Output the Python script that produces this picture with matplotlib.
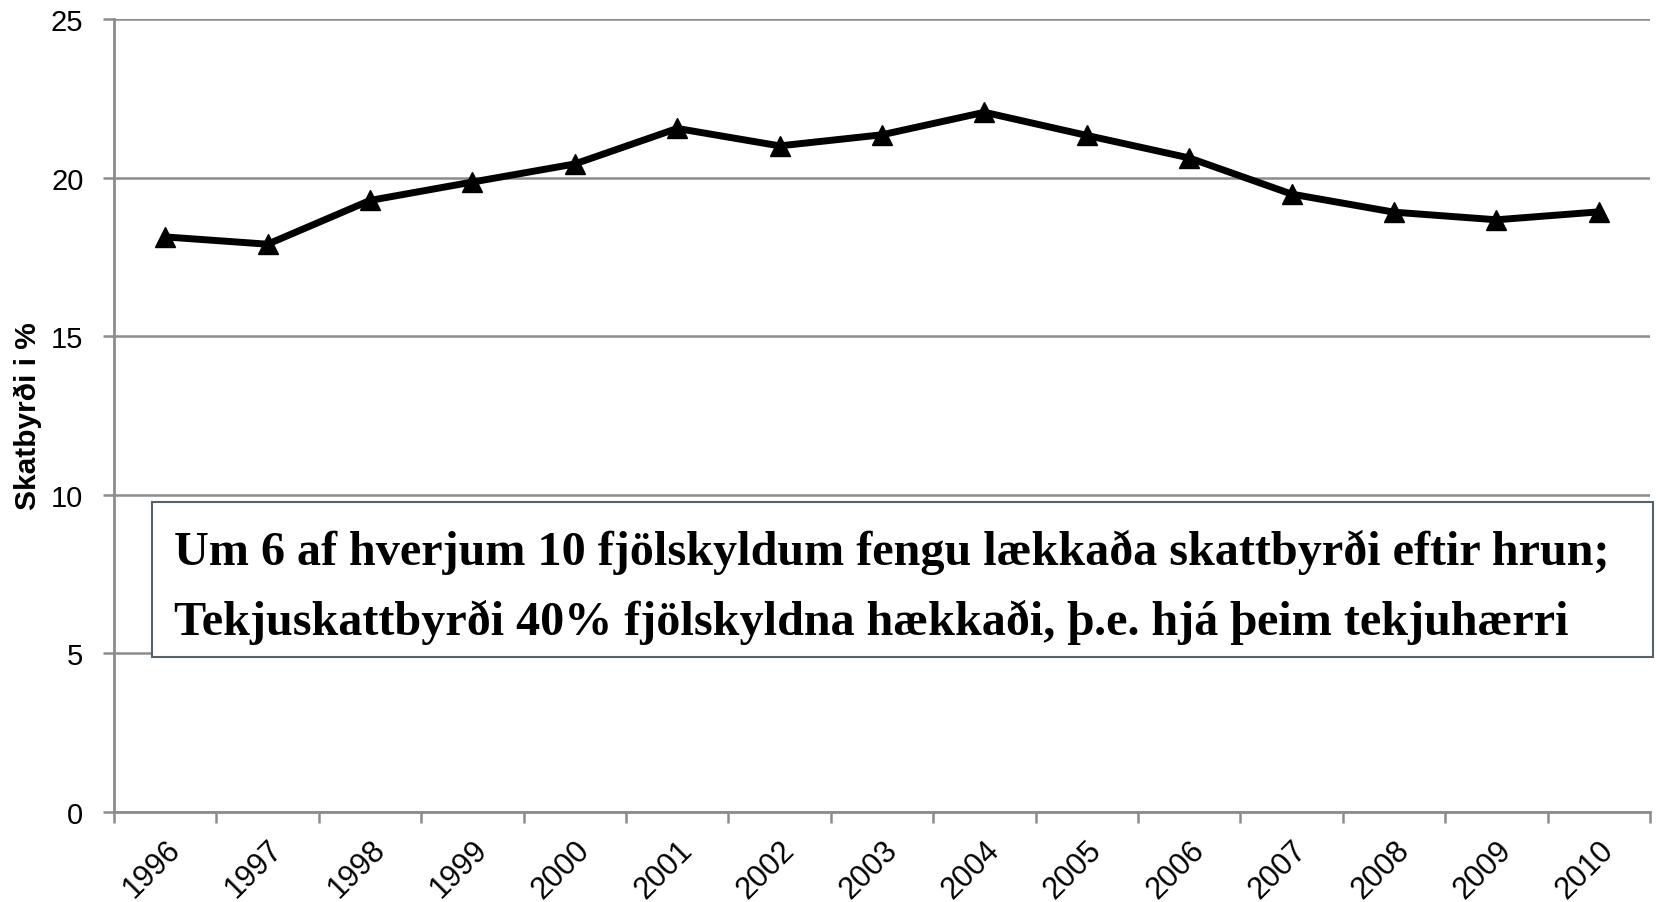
import matplotlib
matplotlib.use("Agg")
import matplotlib.pyplot as plt
from matplotlib.patches import Rectangle
import numpy as np

years = ["1996", "1997", "1998", "1999", "2000", "2001", "2002", "2003",
         "2004", "2005", "2006", "2007", "2008", "2009", "2010"]
burden = [18.13, 17.9, 19.28, 19.86, 20.43, 21.55, 21.0, 21.35,
          22.06, 21.33, 20.62, 19.48, 18.91, 18.67, 18.92]
y_ticks = [0, 5, 10, 15, 20, 25]
y_label = "Skatbyrði i %"
note_lines = ["Um 6 af hverjum 10 fjölskyldum fengu lækkaða skattbyrði eftir hrun;",
              "Tekjuskattbyrði 40% fjölskyldna hækkaði, þ.e. hjá þeim tekjuhærri"]

W, H = 1658, 903
fig = plt.figure(figsize=(W / 100, H / 100), dpi=100)
L, R, T, B = 114, 1650, 20, 813
ax = fig.add_axes([L / W, 1 - B / H, (R - L) / W, (B - T) / H])

grid_c = "#8c8c8c"
x = np.arange(len(years))
ax.plot(x, burden, color="black", lw=5, marker="^", markersize=15,
        markeredgecolor="black", markerfacecolor="black", zorder=5,
        solid_joinstyle="miter")

ax.set_xlim(-0.5, len(years) - 0.5)
ax.set_ylim(0, 25)
ax.set_yticks(y_ticks)
ax.set_yticklabels([str(v) for v in y_ticks], fontsize=21, family="Liberation Sans")
ax.set_xticks(x)
ax.set_xticks(np.arange(-0.5, len(years), 1.0), minor=True)
ax.set_xticklabels(years, rotation=45, ha="right", va="top",
                   rotation_mode="anchor", fontsize=22, family="Liberation Sans")
ax.tick_params(axis="x", which="major", length=0, pad=16)
ax.tick_params(axis="x", which="minor", length=8, width=1.8, color=grid_c)
ax.tick_params(axis="y", length=8, width=1.8, color=grid_c, pad=14)

ax.yaxis.grid(True, color=grid_c, lw=1.8)
ax.set_axisbelow(True)
for s in ["top", "right"]:
    ax.spines[s].set_visible(False)
for s in ["left", "bottom"]:
    ax.spines[s].set_color(grid_c)
    ax.spines[s].set_linewidth(2)

ax.set_ylabel(y_label, fontsize=21.5, fontweight="bold", family="Liberation Sans")
ax.yaxis.set_label_coords(-0.047, 0.5)

# annotation box
bx0 = (152 - L) / (R - L)
bx1 = (1653 - L) / (R - L)
by0 = (B - 658) / (B - T)
by1 = (B - 503) / (B - T)
rect = Rectangle((bx0, by0), bx1 - bx0, by1 - by0, transform=ax.transAxes,
                 facecolor="white", edgecolor="#56616b", lw=1.5, clip_on=False, zorder=6)
ax.add_patch(rect)
tx = (174 - L) / (R - L)
for line, yb in zip(note_lines, [565, 635]):
    ax.text(tx, (B - yb) / (B - T), line, transform=ax.transAxes, ha="left",
            va="baseline", fontsize=34.7, fontweight="bold",
            family="Liberation Serif", zorder=7)

fig.savefig("out.png", dpi=100)
